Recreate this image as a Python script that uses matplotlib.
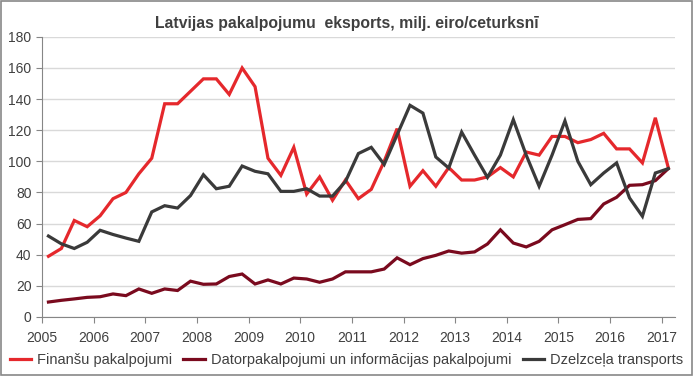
import matplotlib.pyplot as plt
from matplotlib.patches import Rectangle

# quarterly data, 2005 Q1 .. 2017 Q1
finansu = [39, 44, 62, 58, 65, 76, 80, 92, 102, 137, 137, 145, 153, 153, 143, 160,
           148, 102, 91, 109, 79, 90, 75, 88, 76, 82, 100, 121, 84, 94, 84, 96,
           88, 88, 90, 96, 90, 106, 104, 116, 116, 112, 114, 118, 108, 108, 99, 128, 96]
dator = [9.6, 10.7, 11.6, 12.6, 13, 14.8, 13.7, 18, 15.2, 18, 17, 23, 21, 21.2, 26, 27.6,
         21.2, 23.8, 21.2, 25, 24.4, 22.3, 24.4, 29, 29, 29, 30.8, 38, 33.6, 37.5, 39.6, 42.4,
         41, 41.8, 46.9, 56, 47.5, 45, 48.6, 56, 59.3, 62.7, 63.2, 72.6, 76.9, 84.6, 85, 87.6, 95.3]
dzelzcela = [52, 47, 44, 48, 55.7, 53, 50.7, 48.6, 67.5, 71.5, 70, 78, 91.4, 82.4, 84, 97,
             93.6, 92, 80.7, 80.7, 82.4, 77.7, 77.7, 87, 105, 109, 98, 117, 136, 131, 102.8, 95.7,
             118.8, 104, 89.7, 104, 126.8, 104, 84, 104, 126, 100, 85, 92.5, 99, 76.5, 64.7, 92.5, 95.3]
years = [str(y) for y in range(2005, 2018)]

names = ["Finanšu pakalpojumi", "Datorpakalpojumi un informācijas pakalpojumi", "Dzelzceļa transports"]
colors = ["#E5282C", "#7A0A1E", "#3A3A3A"]

plt.rcParams['font.family'] = ['Liberation Sans', 'DejaVu Sans']

fig = plt.figure(figsize=(6.93, 3.76), dpi=100)
ax = fig.add_axes([0.0606, 0.157, 0.913, 0.745])

x = list(range(len(finansu)))
for series, name, c in zip([finansu, dator, dzelzcela], names, colors):
    ax.plot(x, series, color=c, lw=2.3, label=name, solid_joinstyle='miter')

ax.set_xlim(-0.5, len(x) - 0.5)
ax.set_ylim(0, 180)
ax.set_yticks(range(0, 181, 20))
ax.set_xticks([i * 4 - 0.5 for i in range(len(years))])
ax.set_xticklabels(years)

ax.grid(axis='y', color='#D9D9D9', lw=1)
ax.set_axisbelow(True)
for s in ['top', 'right']:
    ax.spines[s].set_visible(False)
for s in ['left', 'bottom']:
    ax.spines[s].set_color('#868686')
ax.tick_params(axis='both', colors='#868686', labelcolor='#404040', labelsize=10, length=4)
ax.tick_params(axis='x', pad=6)

fig.suptitle("Latvijas pakalpojumu  eksports, milj. eiro/ceturksnī", x=0.5, y=0.957,
             fontsize=11.3, fontweight='bold', color='#404040')

fig.legend(loc='lower center', bbox_to_anchor=(0.5, -0.01), ncol=3, frameon=False,
           fontsize=10.5, handlelength=1.5, handletextpad=0.4, columnspacing=0.75,
           labelcolor='#404040')

fig.patches.append(Rectangle((0.001, 0.002), 0.997, 0.995, transform=fig.transFigure,
                             fill=False, edgecolor='#888888', lw=1.2))

fig.savefig("out.png", dpi=100)
